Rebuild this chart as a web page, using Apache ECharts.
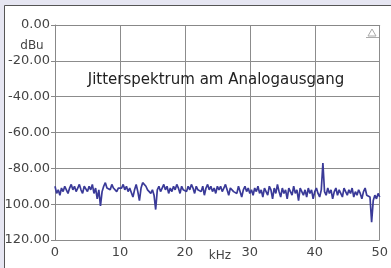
<!DOCTYPE html>
<html>
<head>
<meta charset="utf-8">
<script src="https://cdn.jsdelivr.net/npm/echarts@6/dist/echarts.min.js"></script>
<style>
  html, body { margin: 0; padding: 0; background: #e6e6f2; }
  #chart { width: 391px; height: 268px; }
</style>
</head>
<body>
<div id="chart"></div>
<script>
// frequency grid (kHz) and level (dBu)
const freqStep = 0.25;
const levels = [
  -90, -94, -92, -95, -91, -93, -90, -92, -94, -91, -89, -92, -90, -93, -91, -89, -92, -94, -90, -91, -93,
  -90, -92, -89, -94, -91, -97, -92, -101, -93, -90, -88, -91, -90, -92, -89, -91, -90, -93, -91, -90,
  -91, -89, -92, -90, -93, -91, -90, -96, -92, -89, -93, -98, -91, -88, -87, -90, -92, -91, -94, -92,
  -95, -103, -92, -90, -93, -91, -89, -92, -90, -94, -91, -93, -90, -92, -89, -91, -94, -90, -92, -91,
  -93, -90, -92, -89, -91, -94, -90, -92, -91, -93, -90, -95, -91, -89, -92, -90, -93, -91, -94, -90,
  -92, -90, -93, -91, -89, -92, -95, -91, -90, -93, -92, -94, -90, -91, -96, -92, -90, -93, -91, -94,
  -92, -95, -91, -93, -90, -94, -92, -96, -91, -93, -95, -90, -92, -97, -91, -94, -89, -93, -96, -91,
  -94, -92, -97, -91, -93, -95, -90, -94, -92, -98, -91, -93, -95, -92, -96, -91, -94, -92, -97, -93,
  -91, -94, -96, -92, -77, -93, -95, -91, -94, -92, -97, -93, -91, -95, -92, -94, -96, -91, -93, -95,
  -92, -94, -91, -96, -93, -95, -92, -94, -97, -93, -91, -95, -94, -96, -110, -98, -95, -97, -94, -96
];
const yTickLabels = { '0': '0.00', '-20': '-20.00', '-40': '-40.00', '-60': '-60.00', '-80': '-80.00', '-100': '100.00', '-120': '120.00' };
const title = 'Jitterspektrum am Analogausgang';
const fontFamily = '"DejaVu Sans", Verdana, sans-serif';

const points = levels.map((v, i) => [i * freqStep, v]);

const chart = echarts.init(document.getElementById('chart'), null, { renderer: 'canvas' });

chart.setOption({
  backgroundColor: '#e6e6f2',
  animation: false,
  grid: { left: 55, right: 8, top: 25, bottom: 28 },
  graphic: [
    {
      type: 'rect', z: -10, silent: true,
      shape: { x: 4.5, y: 5.5, width: 420, height: 300 },
      style: { fill: '#ffffff', stroke: '#555555', lineWidth: 1 }
    },
    {
      type: 'text', x: 216, y: 80, z: 10,
      style: { text: title, font: '15px ' + fontFamily, fill: '#222222', textAlign: 'center', textVerticalAlign: 'middle' }
    },
    {
      type: 'text', x: 32, y: 46,
      style: { text: 'dBu', font: '12px ' + fontFamily, fill: '#444444', textAlign: 'center', textVerticalAlign: 'middle' }
    },
    {
      type: 'text', x: 220, y: 256,
      style: { text: 'kHz', font: '12px ' + fontFamily, fill: '#444444', textAlign: 'center', textVerticalAlign: 'middle' }
    },
    {
      type: 'polygon', silent: true,
      shape: { points: [[372, 29], [368, 36], [376, 36]] },
      style: { fill: 'none', stroke: '#aaaaaa', lineWidth: 1 }
    },
    {
      type: 'line', silent: true,
      shape: { x1: 366, y1: 37.5, x2: 379, y2: 37.5 },
      style: { stroke: '#aaaaaa', lineWidth: 1 }
    }
  ],
  xAxis: {
    type: 'value', min: 0, max: 50, interval: 10,
    axisLine: { show: true, lineStyle: { color: '#888888' } },
    axisTick: { show: false },
    splitLine: { show: true, lineStyle: { color: '#8c8c8c', width: 1 } },
    axisLabel: { color: '#444444', fontSize: 13, margin: 6, fontFamily: fontFamily }
  },
  yAxis: {
    type: 'value', min: -120, max: 0, interval: 20,
    axisLine: { show: true, lineStyle: { color: '#888888' } },
    axisTick: { show: true, length: 4, lineStyle: { color: '#888888' } },
    splitLine: { show: true, lineStyle: { color: '#8c8c8c', width: 1 } },
    axisLabel: {
      color: '#444444', fontSize: 13, margin: 5, fontFamily: fontFamily,
      formatter: v => yTickLabels[String(v)] || v.toFixed(2)
    }
  },
  series: [
    {
      type: 'line',
      data: points,
      showSymbol: false,
      lineStyle: { color: '#3a3a98', width: 1.7 }
    }
  ]
});
</script>
</body>
</html>
